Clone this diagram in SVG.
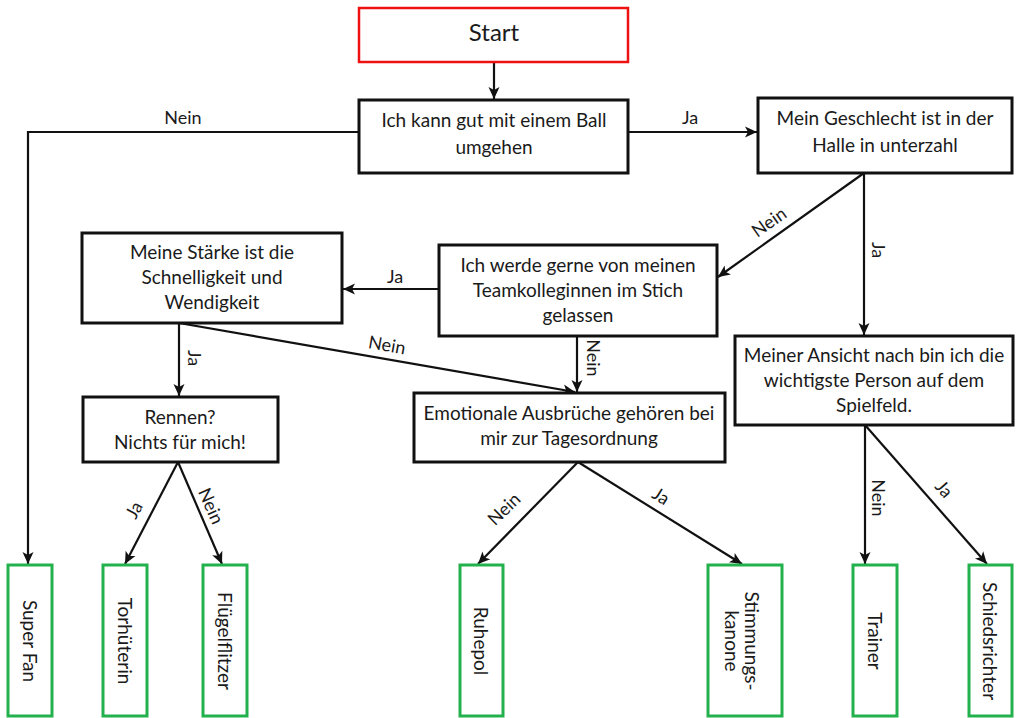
<svg xmlns="http://www.w3.org/2000/svg" width="1019" height="718" viewBox="0 0 1019 718">
<defs>
<marker id="arr" markerUnits="userSpaceOnUse" markerWidth="14" markerHeight="14" viewBox="0 0 14 14" refX="13" refY="7" orient="auto">
<path d="M1,1.5 L13,7 L1,12.5 L4,7 z" fill="#111"/>
</marker>
<style>
.box{fill:#fff;stroke:#111;stroke-width:3}
.start{fill:#fff;stroke:#e11;stroke-width:2.5}
.leaf{fill:#fff;stroke:#22b14c;stroke-width:3}
.t{font-family:Lato,"Liberation Sans",sans-serif;font-size:19px;fill:#1a1a1a;text-anchor:middle}
.lb{font-family:Lato,"Liberation Sans",sans-serif;font-size:18px;fill:#1a1a1a;text-anchor:middle}
.ln{fill:none;stroke:#111;stroke-width:2.2;marker-end:url(#arr)}
</style>
</defs>
<rect width="1019" height="718" fill="#fff"/>
<g id="connectors">
<path class="ln" d="M494,62 L494,99"/>
<path class="ln" d="M359,132 L28,132 L28,564"/>
<path class="ln" d="M628,132 L757,132"/>
<path class="ln" d="M864,173 L718,277"/>
<path class="ln" d="M864,173 L864,335"/>
<path class="ln" d="M439,289 L343,289"/>
<path class="ln" d="M179,323 L179,396"/>
<path class="ln" d="M179,323 L575,392"/>
<path class="ln" d="M577,336 L577,392"/>
<path class="ln" d="M178,462 L125,564"/>
<path class="ln" d="M178,462 L222,564"/>
<path class="ln" d="M578,462 L478,564"/>
<path class="ln" d="M578,462 L742,564"/>
<path class="ln" d="M865,425 L865,564"/>
<path class="ln" d="M865,425 L987,564"/>
<text class="lb" x="183" y="124">Nein</text>
<text class="lb" x="690" y="124">Ja</text>
<text class="lb" transform="translate(769,222) rotate(-35)" dy="0.35em">Nein</text>
<text class="lb" transform="translate(878,250) rotate(90)" dy="0.35em">Ja</text>
<text class="lb" x="395" y="283">Ja</text>
<text class="lb" transform="translate(194,358) rotate(90)" dy="0.35em">Ja</text>
<text class="lb" transform="translate(387,345) rotate(10)" dy="0.35em">Nein</text>
<text class="lb" transform="translate(593,358) rotate(90)" dy="0.35em">Nein</text>
<text class="lb" transform="translate(134,510) rotate(-62)" dy="0.35em">Ja</text>
<text class="lb" transform="translate(211,506) rotate(66)" dy="0.35em">Nein</text>
<text class="lb" transform="translate(504,509) rotate(-44)" dy="0.35em">Nein</text>
<text class="lb" transform="translate(661,496) rotate(32)" dy="0.35em">Ja</text>
<text class="lb" transform="translate(878,498) rotate(90)" dy="0.35em">Nein</text>
<text class="lb" transform="translate(944,489) rotate(49)" dy="0.35em">Ja</text>
</g>
<g id="start">
<rect class="start" x="359" y="8" width="269" height="54"/>
<text class="t" x="494" y="41" style="font-size:24px">Start</text>
</g>
<g id="n1">
<rect class="box" x="359" y="100" width="269" height="73"/>
<text class="t" x="494" y="127">Ich kann gut mit einem Ball</text>
<text class="t" x="494" y="154">umgehen</text>
</g>
<g id="n2">
<rect class="box" x="758" y="98" width="254" height="75"/>
<text class="t" x="885" y="125">Mein Geschlecht ist in der</text>
<text class="t" x="885" y="152">Halle in unterzahl</text>
</g>
<g id="n3">
<rect class="box" x="439" y="245" width="278" height="91"/>
<text class="t" x="578" y="272">Ich werde gerne von meinen</text>
<text class="t" x="578" y="297">Teamkolleginnen im Stich</text>
<text class="t" x="578" y="322">gelassen</text>
</g>
<g id="n4">
<rect class="box" x="82" y="233" width="260" height="90"/>
<text class="t" x="212" y="259">Meine Stärke ist die</text>
<text class="t" x="212" y="284">Schnelligkeit und</text>
<text class="t" x="212" y="309">Wendigkeit</text>
</g>
<g id="n5">
<rect class="box" x="83" y="397" width="195" height="65"/>
<text class="t" x="180" y="424">Rennen?</text>
<text class="t" x="180" y="449">Nichts für mich!</text>
</g>
<g id="n6">
<rect class="box" x="414" y="393" width="311" height="69"/>
<text class="t" x="569" y="420">Emotionale Ausbrüche gehören bei</text>
<text class="t" x="569" y="445">mir zur Tagesordnung</text>
</g>
<g id="n7">
<rect class="box" x="735" y="336" width="278" height="89"/>
<text class="t" x="874" y="362">Meiner Ansicht nach bin ich die</text>
<text class="t" x="874" y="387">wichtigste Person auf dem</text>
<text class="t" x="874" y="412">Spielfeld.</text>
</g>
<g id="superfan">
<rect class="leaf" x="8" y="565" width="44" height="151"/>
<text class="t" transform="translate(30,641) rotate(90)" dy="0.35em">Super Fan</text>
</g>
<g id="torhueterin">
<rect class="leaf" x="103" y="565" width="44" height="151"/>
<text class="t" transform="translate(125,641) rotate(90)" dy="0.35em">Torhüterin</text>
</g>
<g id="fluegelflitzer">
<rect class="leaf" x="203" y="565" width="44" height="151"/>
<text class="t" transform="translate(225,641) rotate(90)" dy="0.35em">Flügelflitzer</text>
</g>
<g id="ruhepol">
<rect class="leaf" x="460" y="565" width="43" height="151"/>
<text class="t" transform="translate(481,641) rotate(90)" dy="0.35em">Ruhepol</text>
</g>
<g id="stimmungskanone">
<rect class="leaf" x="708" y="565" width="74" height="151"/>
<text class="t" transform="translate(742,641) rotate(90)"><tspan x="0" y="-10" dy="0.35em">Stimmungs-</tspan><tspan x="0" y="10" dy="0.35em">kanone</tspan></text>
</g>
<g id="trainer">
<rect class="leaf" x="853" y="565" width="44" height="151"/>
<text class="t" transform="translate(875,641) rotate(90)" dy="0.35em">Trainer</text>
</g>
<g id="schiedsrichter">
<rect class="leaf" x="969" y="565" width="43" height="151"/>
<text class="t" transform="translate(990,641) rotate(90)" dy="0.35em">Schiedsrichter</text>
</g>
</svg>
